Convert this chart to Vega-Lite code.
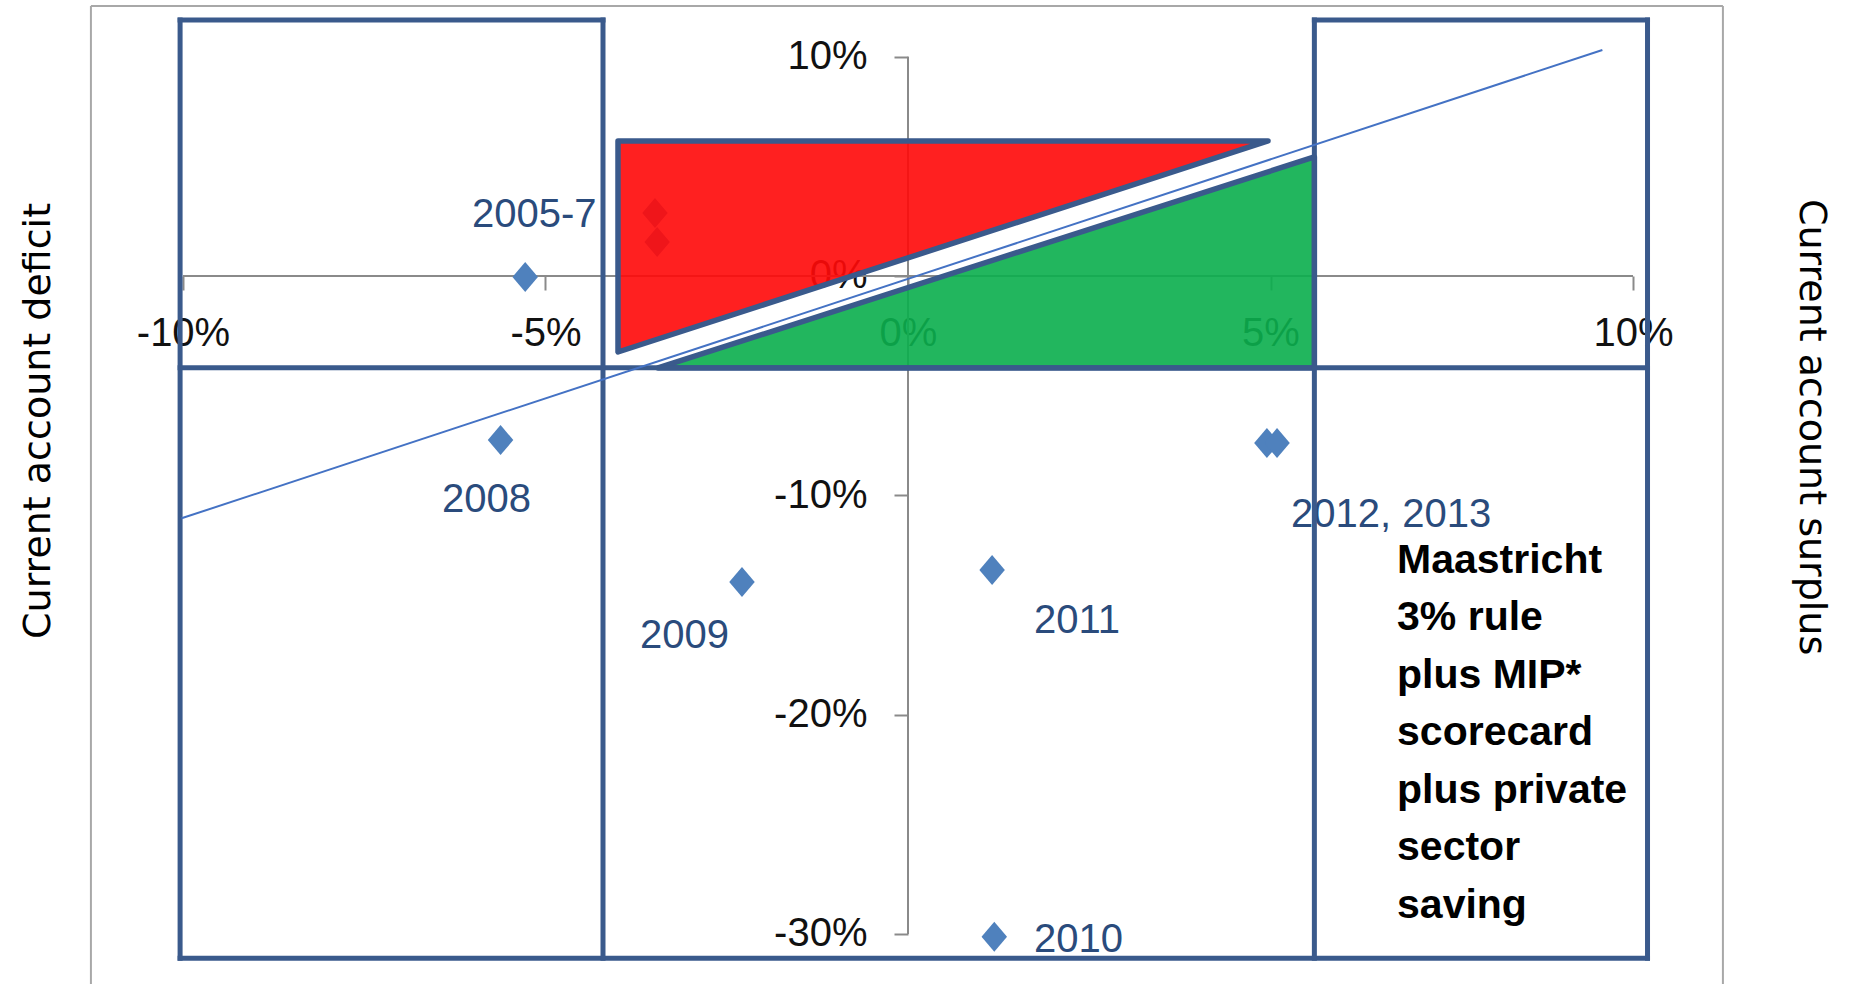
{
  "$schema": "https://vega.github.io/schema/vega-lite/v6.json",
  "width": 1849,
  "height": 984,
  "padding": 0,
  "autosize": {"type": "none"},
  "background": "white",
  "config": {"view": {"stroke": null}},
  "datasets": {
    "frame": [
      {"x": -11.27, "x2": -11.27, "y": 12.31, "y2": -32.285},
      {"x": -11.27, "x2": 11.24, "y": 12.31, "y2": 12.31},
      {"x": 11.24, "x2": 11.24, "y": 12.31, "y2": -32.285}
    ],
    "axislines": [
      {"x": -10, "x2": 10, "y": 0, "y2": 0},
      {"x": 0, "x2": 0, "y": 10, "y2": -30}
    ],
    "points": [
      {"year": "2005", "x": -3.49, "y": 2.87},
      {"year": "2006", "x": -3.46, "y": 1.55},
      {"year": "2007", "x": -5.28, "y": -0.05},
      {"year": "2008", "x": -5.62, "y": -7.48},
      {"year": "2009", "x": -2.29, "y": -13.95},
      {"year": "2010", "x": 1.19, "y": -30.13},
      {"year": "2011", "x": 1.16, "y": -13.41},
      {"year": "2012", "x": 4.95, "y": -7.62},
      {"year": "2013", "x": 5.09, "y": -7.62}
    ],
    "labels": [
      {"label": "2005-7", "x": -6.014, "y": 2.234},
      {"label": "2008", "x": -6.428, "y": -10.76},
      {"label": "2009", "x": -3.697, "y": -16.96},
      {"label": "2011", "x": 1.738, "y": -16.28},
      {"label": "2010", "x": 1.738, "y": -30.83},
      {"label": "2012, 2013", "x": 5.283, "y": -11.45}
    ],
    "red": [
      {"x": -4.0, "y": 6.156, "y2": -3.466},
      {"x": 4.966, "y": 6.156, "y2": 6.156}
    ],
    "green": [
      {"x": -3.448, "y": -4.195, "y2": -4.195},
      {"x": 5.605, "y": 5.43, "y2": -4.195}
    ],
    "boxes": [
      {"x": -10.04, "x2": -4.207, "y": 11.67, "y2": 11.67},
      {"x": 5.605, "x2": 10.2, "y": 11.67, "y2": 11.67},
      {"x": -10.04, "x2": 10.2, "y": -4.18, "y2": -4.18},
      {"x": -10.04, "x2": 10.2, "y": -31.11, "y2": -31.11},
      {"x": -10.04, "x2": -10.04, "y": 11.67, "y2": -31.11},
      {"x": -4.207, "x2": -4.207, "y": 11.67, "y2": -31.11},
      {"x": 5.605, "x2": 5.605, "y": 11.67, "y2": -31.11},
      {"x": 10.2, "x2": 10.2, "y": 11.67, "y2": -31.11}
    ],
    "trend": [
      {"x": -10.02, "y": -11.05},
      {"x": 9.577, "y": 10.306}
    ],
    "note": [
      {"x": 6.745, "y": -13.54, "text": "Maastricht\n3% rule\nplus MIP*\nscorecard\nplus private\nsector\nsaving"}
    ],
    "titleLeft": [{"x": -11.83, "y": -6.61, "text": "Current account deficit"}],
    "titleRight": [{"x": 12.3, "y": -6.89, "text": "Current account surplus"}]
  },
  "encoding": {
    "x": {
      "field": "x",
      "type": "quantitative",
      "scale": {"domain": [-12.524, 12.979], "nice": false, "zero": false},
      "axis": {
        "orient": "bottom",
        "offset": -708,
        "values": [-10, -5, 0, 5, 10],
        "labelExpr": "datum.value + '%'",
        "domain": false,
        "grid": false,
        "ticks": true,
        "tickSize": 14,
        "tickWidth": 2,
        "tickColor": "#8a8a8a",
        "labelFont": "Liberation Sans",
        "labelFontSize": 40,
        "labelColor": "#111111",
        "labelPadding": 23,
        "labelFlush": false,
        "labelOverlap": false,
        "title": null
      }
    },
    "y": {
      "field": "y",
      "type": "quantitative",
      "scale": {"domain": [-32.285, 12.585], "nice": false, "zero": false},
      "axis": {
        "orient": "left",
        "offset": -908,
        "values": [-30, -20, -10, 0, 10],
        "labelExpr": "datum.value + '%'",
        "domain": false,
        "grid": false,
        "ticks": true,
        "tickSize": 14,
        "tickWidth": 2,
        "tickColor": "#8a8a8a",
        "labelFont": "Liberation Sans",
        "labelFontSize": 40,
        "labelColor": "#111111",
        "labelPadding": 27,
        "labelOverlap": false,
        "title": null
      }
    }
  },
  "layer": [
    {
      "data": {"name": "frame"},
      "mark": {"type": "rule", "color": "#a8a8a8", "strokeWidth": 2},
      "encoding": {"x2": {"field": "x2"}, "y2": {"field": "y2"}}
    },
    {
      "data": {"name": "axislines"},
      "mark": {"type": "rule", "color": "#8a8a8a", "strokeWidth": 2},
      "encoding": {"x2": {"field": "x2"}, "y2": {"field": "y2"}}
    },
    {
      "data": {"name": "points"},
      "mark": {"type": "point", "shape": "M0,-1L0.85,0L0,1L-0.85,0Z", "filled": true, "size": 900, "color": "#4f81bd", "opacity": 1},
      "encoding": {}
    },
    {
      "data": {"name": "labels"},
      "mark": {"type": "text", "align": "left", "baseline": "alphabetic", "font": "Liberation Sans", "fontSize": 40, "color": "#2a4b7c"},
      "encoding": {"text": {"field": "label"}}
    },
    {
      "data": {"name": "red"},
      "mark": {"type": "area", "fill": "#ff0a0a", "fillOpacity": 0.91, "stroke": "#3a5a8c", "strokeWidth": 5.5, "strokeJoin": "round", "strokeOpacity": 1},
      "encoding": {"y2": {"field": "y2"}}
    },
    {
      "data": {"name": "green"},
      "mark": {"type": "area", "fill": "#0caf4e", "fillOpacity": 0.91, "stroke": "#3a5a8c", "strokeWidth": 5.5, "strokeJoin": "round", "strokeOpacity": 1},
      "encoding": {"y2": {"field": "y2"}}
    },
    {
      "data": {"name": "boxes"},
      "mark": {"type": "rule", "color": "#3a5a8c", "strokeWidth": 5, "strokeCap": "square"},
      "encoding": {"x2": {"field": "x2"}, "y2": {"field": "y2"}}
    },
    {
      "data": {"name": "trend"},
      "mark": {"type": "line", "color": "#4472c4", "strokeWidth": 2},
      "encoding": {}
    },
    {
      "data": {"name": "note"},
      "mark": {"type": "text", "align": "left", "baseline": "alphabetic", "font": "Liberation Sans", "fontWeight": "bold", "fontSize": 41, "lineBreak": "\n", "lineHeight": 57.5, "color": "#000000"},
      "encoding": {"text": {"field": "text"}}
    },
    {
      "data": {"name": "titleLeft"},
      "mark": {"type": "text", "align": "center", "baseline": "alphabetic", "angle": 270, "font": "DejaVu Sans", "fontSize": 38, "color": "#000000"},
      "encoding": {"text": {"field": "text"}}
    },
    {
      "data": {"name": "titleRight"},
      "mark": {"type": "text", "align": "center", "baseline": "alphabetic", "angle": 90, "font": "DejaVu Sans", "fontSize": 38, "color": "#000000"},
      "encoding": {"text": {"field": "text"}}
    }
  ]
}
